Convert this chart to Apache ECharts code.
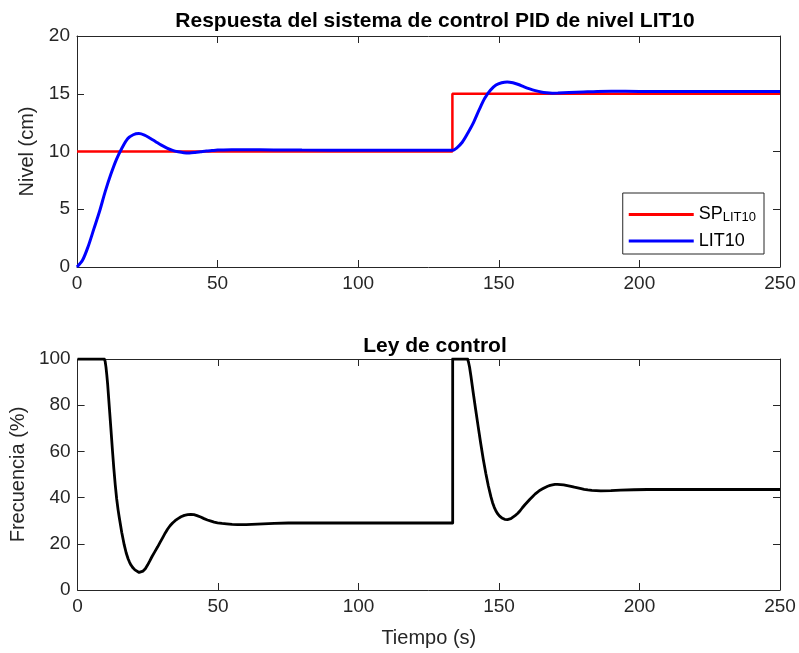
<!DOCTYPE html>
<html>
<head>
<meta charset="utf-8">
<script src="https://cdn.jsdelivr.net/npm/echarts@6/dist/echarts.min.js"></script>
<style>html,body{margin:0;padding:0;background:#fff}#c{width:799px;height:653px}</style>
</head>
<body>
<div id="c"></div>
<script>
// ---- Data ----
var xTicks = [0, 50, 100, 150, 200, 250];
var spTime = [0, 133.5, 133.5, 250];
var spValue = [10, 10, 15, 15];
var litTime = [0, 2, 4, 6, 8, 10, 12, 14, 16, 18, 20, 22, 24, 26, 28, 30, 32, 34, 36, 38, 40, 42, 44, 46, 48, 50, 55, 60, 70, 80, 100, 120, 133.5, 135, 137, 139, 141, 143, 145, 147, 149, 151, 153, 155, 157, 159, 161, 163, 165, 167, 169, 171, 175, 180, 185, 190, 200, 220, 250];
var litValue = [0, 0.6, 1.8, 3.3, 4.8, 6.5, 8.0, 9.3, 10.3, 11.1, 11.45, 11.55, 11.42, 11.15, 10.85, 10.55, 10.3, 10.1, 9.98, 9.9, 9.88, 9.92, 9.98, 10.04, 10.08, 10.12, 10.15, 10.16, 10.14, 10.12, 10.1, 10.1, 10.1, 10.3, 10.8, 11.6, 12.5, 13.6, 14.6, 15.3, 15.75, 15.95, 16.02, 15.95, 15.8, 15.6, 15.42, 15.27, 15.15, 15.08, 15.05, 15.06, 15.1, 15.15, 15.2, 15.22, 15.2, 15.2, 15.2];
var uTime = [0, 9.5, 9.8, 10.1, 10.4, 10.7, 11.3, 11.9, 12.4, 12.9, 13.4, 13.9, 14.4, 14.8, 15.7, 16.6, 17.3, 18, 18.5, 19, 19.7, 20.4, 21.1, 21.9, 22.6, 23.3, 24.1, 24.9, 25.7, 26.5, 27.5, 28.5, 29.4, 30.3, 31.2, 32, 32.9, 33.8, 34.7, 35.6, 36.8, 38, 39.2, 40.3, 41.4, 42.5, 43.8, 45, 46.2, 47.5, 48.6, 49.8, 51.4, 53, 55, 56.9, 60, 64, 70, 75, 100, 133.5, 133.5, 138.8, 139.1, 139.5, 140, 140.8, 141.7, 142.6, 143.5, 144.4, 145.3, 146.2, 147.1, 147.7, 148.3, 148.9, 149.5, 150.2, 151, 151.5, 152, 152.5, 153, 153.6, 154.2, 154.8, 155.7, 156.6, 157.5, 158.3, 159.2, 160.1, 161, 161.9, 162.8, 163.7, 164.6, 165.5, 166.4, 167.3, 168.2, 169, 169.9, 170.8, 171.9, 173, 174.3, 175.6, 176.8, 178, 179.2, 180.3, 181.6, 183, 184.6, 186.2, 189.8, 193.3, 198, 202.8, 250];
var uValue = [100, 100, 99, 96.5, 93, 89, 79, 69, 60.5, 52.5, 45.5, 39.5, 34.8, 31.6, 25, 19.5, 16, 13.4, 12, 10.8, 9.6, 8.7, 8.0, 7.6, 7.7, 8.2, 9.2, 10.8, 12.6, 14.5, 16.6, 18.7, 20.7, 22.7, 24.7, 26.3, 27.8, 29.0, 30.0, 30.8, 31.7, 32.3, 32.6, 32.7, 32.6, 32.2, 31.6, 30.9, 30.3, 29.8, 29.4, 29.1, 28.8, 28.6, 28.4, 28.3, 28.3, 28.5, 28.8, 29, 29, 29, 100, 100, 98.8, 96.5, 92.5, 85.5, 77.9, 70.5, 63.3, 56.5, 50.4, 45, 40.4, 37.8, 35.8, 34.2, 33.0, 32, 31.2, 30.8, 30.6, 30.5, 30.5, 30.6, 30.9, 31.4, 32.2, 33.1, 34.3, 35.6, 36.9, 38.1, 39.3, 40.4, 41.5, 42.4, 43.2, 43.8, 44.4, 44.9, 45.3, 45.5, 45.7, 45.7, 45.6, 45.5, 45.2, 44.9, 44.5, 44.2, 43.9, 43.6, 43.3, 43.1, 43.0, 42.9, 43.0, 43.2, 43.4, 43.5, 43.5];

function pairs(t, v) { return t.map(function (x, i) { return [x, v[i]]; }); }

var FONT = 'Liberation Sans, Arial, sans-serif';
var AX = '#262626';
function xAx(grid, pos, showLabel, name) {
  return {
    type: 'value', gridIndex: grid, position: pos, min: 0, max: 250, interval: 50,
    name: name || '', nameLocation: 'middle', nameGap: 38,
    nameTextStyle: { color: AX, fontSize: 20, fontFamily: FONT },
    axisLine: { show: true, onZero: false, lineStyle: { color: AX, width: 1 } },
    axisTick: { show: true, inside: true, length: 7, lineStyle: { color: AX } },
    axisLabel: { show: showLabel, color: AX, fontSize: 19, fontFamily: FONT, margin: 7 },
    splitLine: { show: false }
  };
}
function yAx(grid, pos, showLabel, max, interval, name, gap) {
  return {
    type: 'value', gridIndex: grid, position: pos, min: 0, max: max, interval: interval,
    name: name || '', nameLocation: 'middle', nameGap: gap || 0,
    nameTextStyle: { color: AX, fontSize: 20, fontFamily: FONT },
    axisLine: { show: true, onZero: false, lineStyle: { color: AX, width: 1 } },
    axisTick: { show: true, inside: true, length: 7, lineStyle: { color: AX } },
    axisLabel: { show: showLabel, color: AX, fontSize: 19, fontFamily: FONT, margin: 7 },
    splitLine: { show: false }
  };
}

var chart = echarts.init(document.getElementById('c'), null, { renderer: 'canvas' });
chart.setOption({
  backgroundColor: '#fff',
  animation: false,
  title: [
    { text: 'Respuesta del sistema de control PID de nivel LIT10', left: 430, top: 6, textAlign: 'center',
      textStyle: { fontSize: 21, fontWeight: 'bold', color: '#000', fontFamily: FONT } },
    { text: 'Ley de control', left: 430, top: 331, textAlign: 'center',
      textStyle: { fontSize: 21, fontWeight: 'bold', color: '#000', fontFamily: FONT } }
  ],
  grid: [
    { left: 77, right: 19, top: 36, height: 231 },
    { left: 77, right: 19, top: 359, height: 231 }
  ],
  xAxis: [
    xAx(0, 'bottom', true), xAx(0, 'top', false),
    xAx(1, 'bottom', true, 'Tiempo (s)'), xAx(1, 'top', false)
  ],
  yAxis: [
    yAx(0, 'left', true, 20, 5, 'Nivel (cm)', 28), yAx(0, 'right', false, 20, 5),
    yAx(1, 'left', true, 100, 20, 'Frecuencia (%)', 37), yAx(1, 'right', false, 100, 20)
  ],
  legend: {
    right: 35, top: 193, orient: 'vertical', backgroundColor: '#fff',
    borderColor: AX, borderWidth: 1, padding: [5, 8, 4, 6], itemGap: 8,
    itemWidth: 65, itemHeight: 3, icon: 'rect',
    data: ['SP_LIT10', 'LIT10'],
    formatter: function (n) { return n === 'SP_LIT10' ? '{a|SP}{b|LIT10}' : '{a|LIT10}'; },
    textStyle: {
      color: '#000', fontFamily: FONT, fontSize: 17,
      rich: {
        a: { fontSize: 18, fontFamily: FONT, color: '#000', lineHeight: 19 },
        b: { fontSize: 13, fontFamily: FONT, color: '#000', verticalAlign: 'bottom', padding: [13, 0, 0, 0], lineHeight: 19 }
      }
    }
  },
  series: [
    { name: 'SP_LIT10', type: 'line', xAxisIndex: 0, yAxisIndex: 0, data: pairs(spTime, spValue),
      showSymbol: false, symbol: 'none', lineStyle: { color: '#ff0000', width: 2.5 }, itemStyle: { color: '#ff0000' } },
    { name: 'LIT10', type: 'line', xAxisIndex: 0, yAxisIndex: 0, data: pairs(litTime, litValue), smooth: 0.3,
      showSymbol: false, symbol: 'none', lineStyle: { color: '#0000ff', width: 3 }, itemStyle: { color: '#0000ff' } },
    { name: 'u', type: 'line', xAxisIndex: 2, yAxisIndex: 2, data: pairs(uTime, uValue),
      showSymbol: false, symbol: 'none', lineStyle: { color: '#000', width: 2.8, join: 'round' }, itemStyle: { color: '#000' } }
  ]
});
</script>
</body>
</html>
